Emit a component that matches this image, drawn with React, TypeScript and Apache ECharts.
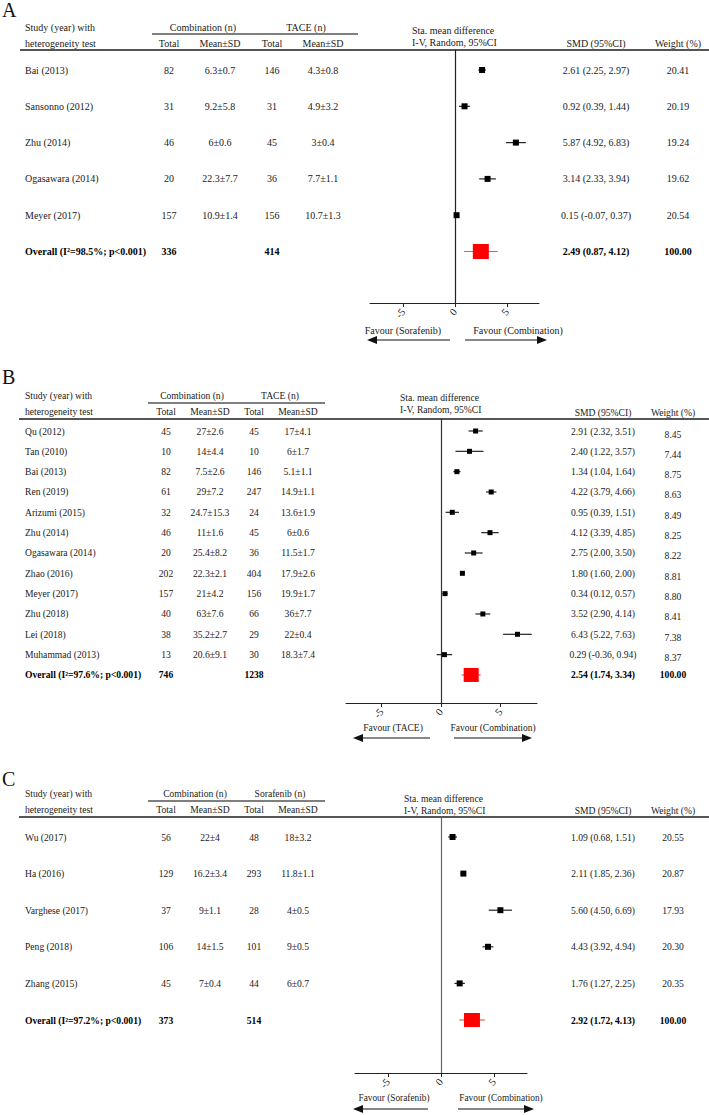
import React, { useEffect, useRef } from "react";
import * as echarts from "echarts";

const FONT = "'Liberation Serif', 'Times New Roman', Times, serif";

// ---------------- Panel A ----------------
const studiesA = ["Bai (2013)", "Sansonno (2012)", "Zhu (2014)", "Ogasawara (2014)", "Meyer (2017)"];
const combTotalA = [82, 31, 46, 20, 157];
const combMeanA = ["6.3±0.7", "9.2±5.8", "6±0.6", "22.3±7.7", "10.9±1.4"];
const ctrlTotalA = [146, 31, 45, 36, 156];
const ctrlMeanA = ["4.3±0.8", "4.9±3.2", "3±0.4", "7.7±1.1", "10.7±1.3"];
const smdA = [2.61, 0.92, 5.87, 3.14, 0.15];
const loA = [2.25, 0.39, 4.92, 2.33, -0.07];
const hiA = [2.97, 1.44, 6.83, 3.94, 0.37];
const weightA = ["20.41", "20.19", "19.24", "19.62", "20.54"];
const overallA = { label: "Overall (I²=98.5%; p<0.001)", comb: 336, ctrl: 414, smd: 2.49, lo: 0.87, hi: 4.12, weight: "100.00" };

// ---------------- Panel B ----------------
const studiesB = ["Qu (2012)", "Tan (2010)", "Bai (2013)", "Ren (2019)", "Arizumi (2015)", "Zhu (2014)", "Ogasawara (2014)", "Zhao (2016)", "Meyer (2017)", "Zhu (2018)", "Lei (2018)", "Muhammad (2013)"];
const combTotalB = [45, 10, 82, 61, 32, 46, 20, 202, 157, 40, 38, 13];
const combMeanB = ["27±2.6", "14±4.4", "7.5±2.6", "29±7.2", "24.7±15.3", "11±1.6", "25.4±8.2", "22.3±2.1", "21±4.2", "63±7.6", "35.2±2.7", "20.6±9.1"];
const ctrlTotalB = [45, 10, 146, 247, 24, 45, 36, 404, 156, 66, 29, 30];
const ctrlMeanB = ["17±4.1", "6±1.7", "5.1±1.1", "14.9±1.1", "13.6±1.9", "6±0.6", "11.5±1.7", "17.9±2.6", "19.9±1.7", "36±7.7", "22±0.4", "18.3±7.4"];
const smdB = [2.91, 2.4, 1.34, 4.22, 0.95, 4.12, 2.75, 1.8, 0.34, 3.52, 6.43, 0.29];
const loB = [2.32, 1.22, 1.04, 3.79, 0.39, 3.39, 2.0, 1.6, 0.12, 2.9, 5.22, -0.36];
const hiB = [3.51, 3.57, 1.64, 4.66, 1.51, 4.85, 3.5, 2.0, 0.57, 4.14, 7.63, 0.94];
const weightB = ["8.45", "7.44", "8.75", "8.63", "8.49", "8.25", "8.22", "8.81", "8.80", "8.41", "7.38", "8.37"];
const overallB = { label: "Overall (I²=97.6%; p<0.001)", comb: 746, ctrl: 1238, smd: 2.54, lo: 1.74, hi: 3.34, weight: "100.00" };

// ---------------- Panel C ----------------
const studiesC = ["Wu (2017)", "Ha (2016)", "Varghese (2017)", "Peng (2018)", "Zhang (2015)"];
const combTotalC = [56, 129, 37, 106, 45];
const combMeanC = ["22±4", "16.2±3.4", "9±1.1", "14±1.5", "7±0.4"];
const ctrlTotalC = [48, 293, 28, 101, 44];
const ctrlMeanC = ["18±3.2", "11.8±1.1", "4±0.5", "9±0.5", "6±0.7"];
const smdC = [1.09, 2.11, 5.6, 4.43, 1.76];
const loC = [0.68, 1.85, 4.5, 3.92, 1.27];
const hiC = [1.51, 2.36, 6.69, 4.94, 2.25];
const weightC = ["20.55", "20.87", "17.93", "20.30", "20.35"];
const overallC = { label: "Overall (I²=97.2%; p<0.001)", comb: 373, ctrl: 514, smd: 2.92, lo: 1.72, hi: 4.13, weight: "100.00" };

const tickValues = [-5, 0, 5];
const headerCols = ["Total", "Mean±SD", "Total", "Mean±SD"];

const panelsData = [
  { letter: "A", ctrlName: "TACE (n)", favourL: "Favour (Sorafenib)", favourR: "Favour (Combination)", studies: studiesA, combTotal: combTotalA, combMean: combMeanA, ctrlTotal: ctrlTotalA, ctrlMean: ctrlMeanA, smd: smdA, lo: loA, hi: hiA, weight: weightA, overall: overallA },
  { letter: "B", ctrlName: "TACE (n)", favourL: "Favour (TACE)", favourR: "Favour (Combination)", studies: studiesB, combTotal: combTotalB, combMean: combMeanB, ctrlTotal: ctrlTotalB, ctrlMean: ctrlMeanB, smd: smdB, lo: loB, hi: hiB, weight: weightB, overall: overallB },
  { letter: "C", ctrlName: "Sorafenib (n)", favourL: "Favour (Sorafenib)", favourR: "Favour (Combination)", studies: studiesC, combTotal: combTotalC, combMean: combMeanC, ctrlTotal: ctrlTotalC, ctrlMean: ctrlMeanC, smd: smdC, lo: loC, hi: hiC, weight: weightC, overall: overallC },
];

const layouts = [
  { letterY: 10, fs: 10, favFs: 10, headY1: 27, headY2: 43, ul: [152, 358, 34], full: [20, 709, 50], cols: { name: 25, ct: 169, cm: 220, tt: 272, tm: 323, combHead: 203, ctrlHead: 306, sta: 412, smd: 596, wt: 678 }, staY1: 30, staY2: 42, rightHeadY: 43, rowY0: 70, rowStep: 36.3, axisY: 303, gridL: 370, gridR: 539, xMin: -8.2, xMax: 8.1, favY: 330, favLX: 403, favRX: 518, arrowY: 340, arrowL: [450, 367], arrowR: [465, 547], wtDy: 0, mk: 6, ovW: 16, ovH: 15, vColor: "#222" },
  { letterY: 377, fs: 9.6, favFs: 9.5, headY1: 395, headY2: 411, ul: [148, 325, 403], full: [19, 709, 419], cols: { name: 25, ct: 166, cm: 210, tt: 254, tm: 298, combHead: 192, ctrlHead: 280, sta: 400, smd: 603, wt: 673 }, staY1: 397, staY2: 409, rightHeadY: 412, rowY0: 431, rowStep: 20.33, axisY: 703, gridL: 346, gridR: 537, xMin: -7.98, xMax: 8.07, favY: 728, favLX: 393, favRX: 493, arrowY: 738, arrowL: [430, 353], arrowR: [454, 532], wtDy: 3, mk: 5, ovW: 15, ovH: 14, vColor: "#333" },
  { letterY: 779, fs: 9.6, favFs: 9.3, headY1: 793, headY2: 809, ul: [148, 325, 801], full: [19, 709, 817], cols: { name: 25, ct: 166, cm: 210, tt: 254, tm: 298, combHead: 195, ctrlHead: 280, sta: 404, smd: 603, wt: 673 }, staY1: 798, staY2: 810, rightHeadY: 810, rowY0: 837, rowStep: 36.6, axisY: 1073, gridL: 355, gridR: 527, xMin: -8.11, xMax: 8.11, favY: 1098, favLX: 394, favRX: 501, arrowY: 1109, arrowL: [428, 353], arrowR: [458, 534], wtDy: 0, mk: 6, ovW: 16, ovH: 14, vColor: "#666" },
];

function txt(x: number, y: number, text: string, fs: number, align = "left", bold = false, color = "#1a1a1a") {
  return {
    type: "text",
    x,
    y,
    silent: true,
    style: { text, fontSize: fs, fontFamily: FONT, fontWeight: bold ? "bold" : "normal", fill: color, align, verticalAlign: "middle" },
  };
}

function line(x1: number, y1: number, x2: number, y2: number, color = "#555", w = 1) {
  return { type: "line", silent: true, shape: { x1, y1, x2, y2 }, style: { stroke: color, lineWidth: w } };
}

function arrow(xs: number, xe: number, y: number) {
  const dir = xe > xs ? 1 : -1;
  const headLen = 10;
  const hh = 4;
  return [
    line(xs, y, xe - dir * headLen, y, "#111", 1.2),
    { type: "polygon", silent: true, shape: { points: [[xe, y], [xe - dir * headLen, y - hh], [xe - dir * headLen, y + hh]] }, style: { fill: "#111" } },
  ];
}

const fmt = (v: number) => v.toFixed(2);

function buildOption() {
  const grid: any[] = [];
  const xAxis: any[] = [];
  const yAxis: any[] = [];
  const series: any[] = [];
  const graphic: any[] = [];

  panelsData.forEach((p, i) => {
    const L = layouts[i];
    const n = p.studies.length;
    const rowY = (r: number) => L.rowY0 + r * L.rowStep;
    const yMin = (L.full[2] - L.rowY0) / L.rowStep;
    const yMax = (L.axisY - L.rowY0) / L.rowStep;

    grid.push({ left: L.gridL, top: L.full[2], width: L.gridR - L.gridL, height: L.axisY - L.full[2], containLabel: false, outerBoundsMode: "none" });
    xAxis.push({
      type: "value",
      gridIndex: i,
      min: L.xMin,
      max: L.xMax,
      axisLine: { show: true, onZero: false, lineStyle: { color: "#222", width: 1 } },
      axisTick: { show: true, length: 4, customValues: tickValues, lineStyle: { color: "#222" } },
      axisLabel: { show: true, customValues: tickValues, rotate: 50, margin: 7, fontFamily: FONT, fontSize: 10.5, color: "#222", formatter: (v: number) => String(v) },
      splitLine: { show: false },
    });
    yAxis.push({
      type: "value",
      gridIndex: i,
      inverse: true,
      min: yMin,
      max: yMax,
      axisLine: { show: true, onZero: true, lineStyle: { color: L.vColor, width: 1.2 } },
      axisTick: { show: false },
      axisLabel: { show: false },
      splitLine: { show: false },
    });

    const studyData = p.studies.map((_, k) => [p.smd[k], p.lo[k], p.hi[k], k]);
    const mk = L.mk;
    series.push({
      type: "custom",
      xAxisIndex: i,
      yAxisIndex: i,
      silent: true,
      encode: { x: [0, 1, 2], y: 3 },
      data: studyData,
      renderItem: (_params: any, api: any) => {
        const r = api.value(3);
        const c = api.coord([api.value(0), r]);
        const l = api.coord([api.value(1), r]);
        const h = api.coord([api.value(2), r]);
        return {
          type: "group",
          children: [
            { type: "line", shape: { x1: l[0], y1: l[1], x2: h[0], y2: h[1] }, style: { stroke: "#222", lineWidth: 1.2 } },
            { type: "rect", shape: { x: c[0] - mk / 2, y: c[1] - mk / 2, width: mk, height: mk }, style: { fill: "#000" } },
          ],
        };
      },
    });
    const ow = L.ovW;
    const oh = L.ovH;
    series.push({
      type: "custom",
      xAxisIndex: i,
      yAxisIndex: i,
      silent: true,
      encode: { x: [0, 1, 2], y: 3 },
      data: [[p.overall.smd, p.overall.lo, p.overall.hi, n]],
      renderItem: (_params: any, api: any) => {
        const r = api.value(3);
        const c = api.coord([api.value(0), r]);
        const l = api.coord([api.value(1), r]);
        const h = api.coord([api.value(2), r]);
        return {
          type: "group",
          children: [
            { type: "line", shape: { x1: l[0], y1: l[1], x2: h[0], y2: h[1] }, style: { stroke: "#e25b5b", lineWidth: 1.2 } },
            { type: "rect", shape: { x: c[0] - ow / 2, y: c[1] - oh / 2, width: ow, height: oh }, style: { fill: "#ff0000" } },
          ],
        };
      },
    });

    // Letter
    graphic.push(txt(2, L.letterY, p.letter, 20, "left", false, "#111"));
    // Headers
    const C = L.cols;
    graphic.push(txt(C.name, L.headY1, "Study (year) with", L.fs));
    graphic.push(txt(C.name, L.headY2, "heterogeneity test", L.fs));
    graphic.push(txt(C.combHead, L.headY1, "Combination (n)", L.fs, "center"));
    graphic.push(txt(C.ctrlHead, L.headY1, p.ctrlName, L.fs, "center"));
    [C.ct, C.cm, C.tt, C.tm].forEach((x, k) => graphic.push(txt(x, L.headY2, headerCols[k], L.fs, "center")));
    graphic.push(line(L.ul[0], L.ul[2], L.ul[1], L.ul[2], "#555", 1.3));
    graphic.push(line(L.full[0], L.full[2], L.full[1], L.full[2], "#555", 1.8));
    graphic.push(txt(C.sta, L.staY1, "Sta. mean difference", L.fs));
    graphic.push(txt(C.sta, L.staY2, "I-V, Random, 95%CI", L.fs));
    graphic.push(txt(C.smd, L.rightHeadY, "SMD (95%CI)", L.fs, "center"));
    graphic.push(txt(C.wt, L.rightHeadY, "Weight (%)", L.fs, "center"));

    // Rows
    p.studies.forEach((s, k) => {
      const y = rowY(k);
      graphic.push(txt(C.name, y, s, L.fs));
      graphic.push(txt(C.ct, y, String(p.combTotal[k]), L.fs, "center"));
      graphic.push(txt(C.cm, y, p.combMean[k], L.fs, "center"));
      graphic.push(txt(C.tt, y, String(p.ctrlTotal[k]), L.fs, "center"));
      graphic.push(txt(C.tm, y, p.ctrlMean[k], L.fs, "center"));
      graphic.push(txt(C.smd, y, `${fmt(p.smd[k])} (${fmt(p.lo[k])}, ${fmt(p.hi[k])})`, L.fs, "center"));
      graphic.push(txt(C.wt, y + L.wtDy, p.weight[k], L.fs, "center"));
    });
    const oy = rowY(n);
    const o = p.overall;
    graphic.push(txt(C.name, oy, o.label, L.fs, "left", true, "#000"));
    graphic.push(txt(C.ct, oy, String(o.comb), L.fs, "center", true, "#000"));
    graphic.push(txt(C.tt, oy, String(o.ctrl), L.fs, "center", true, "#000"));
    graphic.push(txt(C.smd, oy, `${fmt(o.smd)} (${fmt(o.lo)}, ${fmt(o.hi)})`, L.fs, "center", true, "#000"));
    graphic.push(txt(C.wt, oy, o.weight, L.fs, "center", true, "#000"));

    // Favour labels and arrows
    graphic.push(txt(L.favLX, L.favY, p.favourL, L.favFs, "center"));
    graphic.push(txt(L.favRX, L.favY, p.favourR, L.favFs, "center"));
    graphic.push(...arrow(L.arrowL[0], L.arrowL[1], L.arrowY));
    graphic.push(...arrow(L.arrowR[0], L.arrowR[1], L.arrowY));
  });

  return {
    animation: false,
    backgroundColor: "#ffffff",
    grid,
    xAxis,
    yAxis,
    series,
    graphic: { elements: graphic },
  };
}

export default function App() {
  const ref = useRef<HTMLDivElement>(null);
  useEffect(() => {
    document.body.style.margin = "0";
    if (!ref.current) return;
    const chart = echarts.init(ref.current, undefined, { renderer: "svg" });
    chart.setOption(buildOption() as any);
    return () => chart.dispose();
  }, []);
  return <div ref={ref} style={{ width: 709, height: 1115, background: "#fff" }} />;
}
